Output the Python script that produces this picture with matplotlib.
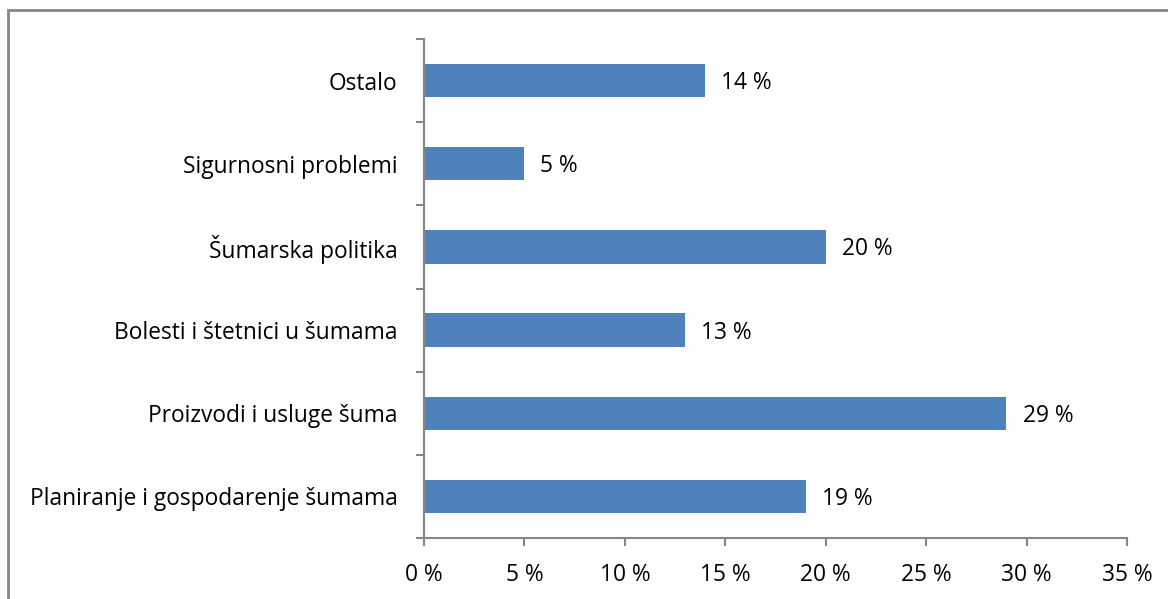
import numpy as np
import matplotlib.pyplot as plt
from matplotlib.patches import Rectangle

categories = ["Planiranje i gospodarenje šumama", "Proizvodi i usluge šuma",
              "Bolesti i štetnici u šumama", "Šumarska politika",
              "Sigurnosni problemi", "Ostalo"]
values = [19, 29, 13, 20, 5, 14]
xticks = [0, 5, 10, 15, 20, 25, 30, 35]

plt.rcParams['font.family'] = ['Open Sans', 'DejaVu Sans']
grey = '#868686'
fs = 16.4

fig = plt.figure(figsize=(11.68, 5.99), dpi=100)
# outer chart frame (right and bottom edges fall outside the image)
fig.patches.append(Rectangle((8/1168, -0.05), 1.2, (599-10)/599 + 0.05,
                             transform=fig.transFigure, fill=False,
                             edgecolor=grey, linewidth=2))

ax = fig.add_axes([424/1168, 1-538/599, (1127-424)/1168, (538-39)/599])
y = np.arange(len(categories))
ax.barh(y, values, height=0.4, color='#4F81BD')
for yi, v in zip(y, values):
    ax.text(v + 0.8, yi - 0.03, f"{v} %", va='center', ha='left', fontsize=fs)

ax.set_xlim(0, 35)
ax.set_ylim(-0.5, len(categories) - 0.5)
ax.set_xticks(xticks)
ax.set_xticklabels([f"{t} %" for t in xticks], fontsize=fs)
ax.set_yticks(y)
ax.set_yticklabels(categories, fontsize=fs)
ax.set_yticks(np.arange(-0.5, len(categories)), minor=True)
ax.tick_params(axis='y', which='major', length=0, pad=19)
ax.tick_params(axis='y', which='minor', length=6, color=grey, width=1.5)
ax.tick_params(axis='x', length=6, color=grey, width=1.5, pad=12)

for s in ['top', 'right']:
    ax.spines[s].set_visible(False)
for s in ['left', 'bottom']:
    ax.spines[s].set_color(grey)
    ax.spines[s].set_linewidth(1.5)

fig.savefig('out.png', dpi=100)
